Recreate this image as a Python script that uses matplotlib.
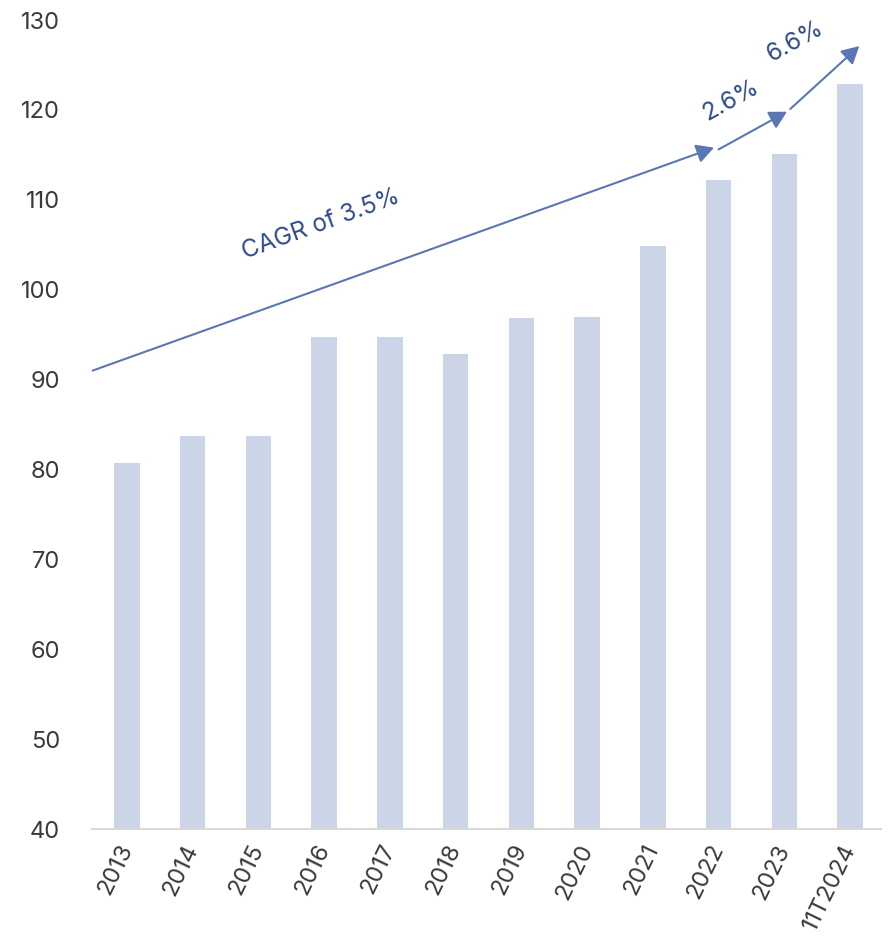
import matplotlib.pyplot as plt
from matplotlib.patches import FancyArrowPatch

plt.rcParams['font.family'] = ['Inter', 'DejaVu Sans']

# datos
years = ["2013", "2014", "2015", "2016", "2017", "2018",
         "2019", "2020", "2021", "2022", "2023", "11T2024"]
values = [80.7, 83.7, 83.7, 94.7, 94.7, 92.8, 96.8, 97.0, 104.9, 112.2, 115.1, 122.9]

# flechas de crecimiento: (x0, y0, x1, y1) en coordenadas de datos
cagr_arrow = (-0.52, 91.0, 8.93, 115.8)
arrow_22_23 = (9.0, 115.6, 10.04, 119.8)
arrow_23_24 = (10.09, 120.1, 11.14, 127.1)
labels = ["CAGR of 3.5%", "2.6%", "6.6%"]

bar_color = "#ccd5e7"
arrow_color = "#5a77b3"
text_color = "#2f4b8c"

fig = plt.figure(figsize=(8.88, 9.48), dpi=100)
ax = fig.add_axes([0.1036, 0.1255, 0.8885, 0.8534])

x = range(len(years))
ax.bar(x, values, width=0.39, color=bar_color, zorder=2)

ax.set_xlim(-0.53, 11.47)
ax.set_ylim(40, 130)
ax.set_yticks(range(40, 131, 10))
ax.set_xticks(list(x))
ax.set_xticklabels(years, rotation=64, ha="right", va="center",
                   rotation_mode="anchor")

ax.tick_params(axis="y", length=0, pad=23, labelsize=17, labelcolor="#3a3a3a")
ax.tick_params(axis="x", length=0, pad=12, labelsize=17, labelcolor="#3a3a3a")

for s in ["top", "right", "left"]:
    ax.spines[s].set_visible(False)
ax.spines["bottom"].set_color("#d9d9d9")
ax.spines["bottom"].set_linewidth(1.5)

# flechas
for (x0, y0, x1, y1) in [cagr_arrow, arrow_22_23, arrow_23_24]:
    arr = FancyArrowPatch((x0, y0), (x1, y1), arrowstyle="-|>,head_length=7,head_width=3.8",
                          color=arrow_color, lw=1.5, mutation_scale=1.5,
                          shrinkA=0, shrinkB=0, clip_on=False, zorder=3)
    ax.add_patch(arr)

ax.text(2.95, 107.2, labels[0], rotation=20, color=text_color, fontsize=17.5,
        ha="center", va="center")
ax.text(9.18, 121.0, labels[1], rotation=29, color=text_color, fontsize=17.5,
        ha="center", va="center")
ax.text(10.17, 127.6, labels[2], rotation=29, color=text_color, fontsize=17.5,
        ha="center", va="center")

plt.savefig("out.png", dpi=100)
